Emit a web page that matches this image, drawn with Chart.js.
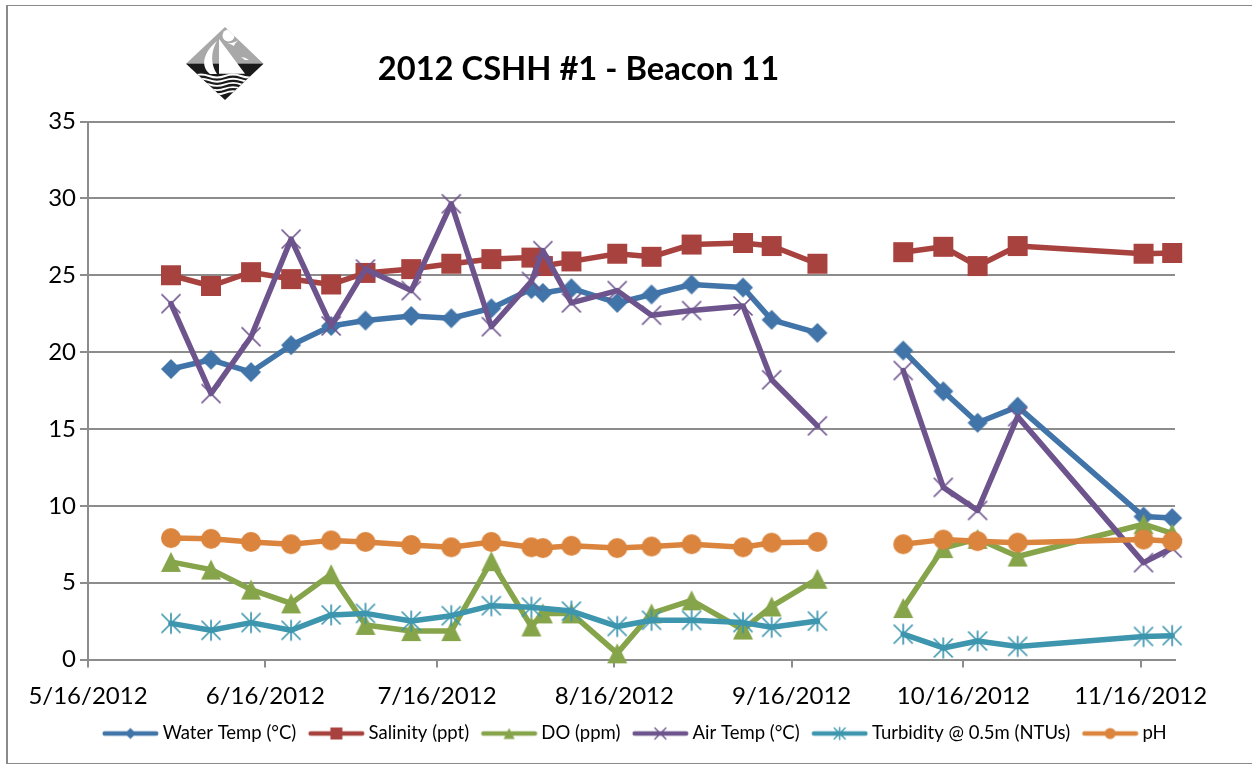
<!DOCTYPE html>
<html><head><meta charset="utf-8">
<style>
html,body{margin:0;padding:0;background:#fff;}
#wrap{position:relative;width:1252px;height:764px;overflow:hidden;}
#frame{position:absolute;left:6px;top:5px;width:1260px;height:759px;border:solid #8a8a8a;border-width:1.5px 0 1.5px 2px;box-sizing:border-box;}
canvas{position:absolute;left:0;top:0;}
#logo{position:absolute;left:185px;top:27px;}
</style>
<script src="https://cdn.jsdelivr.net/npm/chart.js@4"></script>
</head><body>
<div id="wrap"><div id="frame"></div>
<canvas id="c" width="1252" height="764"></canvas>
<svg id="logo" width="80" height="74" viewBox="0 0 80 74">
<defs><clipPath id="d"><polygon points="40,0 78.5,36.7 40,73 1,36.7"/></clipPath></defs>
<g clip-path="url(#d)">
<rect width="80" height="37" fill="#a8a8a8"/>
<rect y="36.7" width="80" height="38" fill="#1a1a1a"/>
<circle cx="43.5" cy="8.5" r="6" fill="#fff"/>
<path d="M34,12 L60,46.7 L34,46.7 Z" fill="#fff"/>
<path d="M32,14 C20,24 14,38 25,47 L32,47 C26,38 25,26 32,14 Z" fill="#fff"/>
<path d="M42,16 Q48,17 56,12 Q50,15 49,19 Q46,17 42,16Z" fill="#fff"/>
<path d="M56,30 Q60,30 64,33 L60,33Z" fill="#fff"/>
<g fill="none" stroke="#fff" stroke-width="1.9">
<path d="M8,49 q8,-3 16,0 t16,0 t16,0 t16,0"/>
<path d="M8,53.2 q8,-3 16,0 t16,0 t16,0 t16,0"/>
<path d="M8,57.4 q8,-3 16,0 t16,0 t16,0 t16,0"/>
<path d="M8,61.6 q8,-3 16,0 t16,0 t16,0 t16,0"/>
<path d="M8,65.8 q8,-3 16,0 t16,0 t16,0 t16,0"/>
</g>
</g>
</svg>
</div>
<script>
const titleText = '2012 CSHH #1 - Beacon 11';
const tickDates = ['5/16/2012','6/16/2012','7/16/2012','8/16/2012','9/16/2012','10/16/2012','11/16/2012'];
const yTicks = [0,5,10,15,20,25,30,35];
const dates = ['5/30/2012','6/6/2012','6/13/2012','6/20/2012','6/27/2012','7/3/2012','7/11/2012','7/18/2012','7/25/2012','8/1/2012','8/3/2012','8/8/2012','8/16/2012','8/22/2012','8/29/2012','9/7/2012','9/12/2012','9/20/2012','9/28/2012','10/5/2012','10/12/2012','10/18/2012','10/25/2012','11/16/2012','11/21/2012'];
const waterTemp = [18.9,19.5,18.7,20.45,21.7,22.05,22.35,22.2,22.85,24.1,23.85,24.15,23.2,23.75,24.4,24.2,22.1,21.25,null,20.1,17.45,15.4,16.45,9.3,9.2];
const salinity = [25.0,24.3,25.2,24.75,24.4,25.15,25.4,25.75,26.05,26.15,25.6,25.9,26.4,26.2,27.0,27.1,26.9,25.75,null,26.5,26.85,25.6,26.9,26.4,26.45];
const dissolvedO2 = [6.35,5.85,4.55,3.65,5.55,2.25,1.85,1.85,6.4,2.15,3.0,3.0,0.4,3.0,3.85,1.95,3.45,5.25,null,3.35,7.25,7.85,6.7,8.8,8.2];
const airTemp = [23.15,17.3,21.0,27.35,21.7,25.4,24.0,29.65,21.65,24.6,26.6,23.2,24.0,22.4,22.7,23.0,18.2,15.2,null,18.8,11.2,9.7,15.8,6.3,7.25];
const turbidity = [2.35,1.9,2.4,1.9,2.9,3.0,2.5,2.85,3.5,3.4,null,3.15,2.15,2.55,2.55,2.4,2.1,2.5,null,1.65,0.75,1.2,0.85,1.5,1.55];
const pH = [7.9,7.85,7.65,7.5,7.75,7.65,7.45,7.3,7.65,7.3,7.25,7.4,7.25,7.35,7.5,7.3,7.6,7.65,null,7.5,7.8,7.7,7.6,7.8,7.7];
const seriesNames = ['Water Temp (°C)','Salinity (ppt)','DO (ppm)','Air Temp (°C)','Turbidity @ 0.5m (NTUs)','pH'];
const seriesColors = ['#4174A8','#A8423F','#86A44A','#6E548D','#3D96AE','#DB843D'];
const seriesShapes = ['diamond','square','triangle','x','star','circle'];
const seriesValues = [waterTemp,salinity,dissolvedO2,airTemp,turbidity,pH];
const gapDate = '9/28/2012';
const axisColor = '#8c8c8c';
const FONT = 'Lato, Carlito, sans-serif';

function toDay(s){const [m,d,y]=s.split('/').map(Number);return Date.UTC(y,m-1,d)/86400000;}
const day0 = toDay(tickDates[0]);
const dayOf = s => toDay(s)-day0;

function shape(ctx,kind,cx,cy,s,color){
  const h=s/2;
  ctx.fillStyle=color;ctx.strokeStyle=color;
  ctx.beginPath();
  if(kind==='diamond'){ctx.moveTo(cx,cy-h);ctx.lineTo(cx+h,cy);ctx.lineTo(cx,cy+h);ctx.lineTo(cx-h,cy);ctx.closePath();ctx.fill();}
  else if(kind==='square'){ctx.rect(cx-h,cy-h,s,s);ctx.fill();}
  else if(kind==='triangle'){ctx.moveTo(cx,cy-h);ctx.lineTo(cx+h,cy+h);ctx.lineTo(cx-h,cy+h);ctx.closePath();ctx.fill();}
  else if(kind==='circle'){ctx.arc(cx,cy,h,0,Math.PI*2);ctx.fill();}
  else{
    ctx.lineWidth=s>14?1.7:1.4;
    ctx.moveTo(cx-h,cy-h);ctx.lineTo(cx+h,cy+h);ctx.moveTo(cx+h,cy-h);ctx.lineTo(cx-h,cy+h);
    if(kind==='star'){ctx.moveTo(cx,cy-h*1.1);ctx.lineTo(cx,cy+h*1.1);}
    ctx.stroke();
  }
}
function marker(kind,color){
  const size=kind==='x'||kind==='star'?19:20;
  const c=document.createElement('canvas');c.width=c.height=24;
  shape(c.getContext('2d'),kind,12,12,size,color);
  return c;
}
function legendGlyph(kind,color){
  const c=document.createElement('canvas');c.width=62;c.height=16;
  const g=c.getContext('2d');
  g.strokeStyle=color;g.lineWidth=4.5;g.lineCap='round';
  g.beginPath();g.moveTo(7.75,8);g.lineTo(59.25,8);g.stroke();
  shape(g,kind,33.5,8,kind==='square'?12:11,color);
  return c;
}

const datasets = seriesValues.map((vals,i)=>({
  label:seriesNames[i],
  data:dates.map((d,k)=>({x:dayOf(d)+0.5,y:vals[k],d})).filter(p=>p.y!==null||p.d===gapDate),
  borderColor:seriesColors[i],
  backgroundColor:seriesColors[i],
  borderWidth:5.5,
  borderCapStyle:'round',
  borderJoinStyle:'round',
  tension:0,
  spanGaps:false,
  clip:false,
  pointStyle:marker(seriesShapes[i],seriesColors[i]),
  pointRadius:10,
  pointHoverRadius:10,
  order:5-i
}));

const placeBlocks={id:'placeBlocks',beforeDraw(chart){
  if(chart.titleBlock){chart.titleBlock.left=0;chart.titleBlock.right=1157;}
  if(chart.legend){chart.legend.left=47;chart.legend.right=1222;}
}};

new Chart(document.getElementById('c'),{
  type:'line',
  data:{datasets},
  plugins:[placeBlocks],
  options:{
    responsive:false,animation:false,
    layout:{padding:{left:0,right:77,top:0,bottom:11.25}},
    plugins:{
      title:{display:true,text:titleText,color:'#000',align:'center',
        font:{family:FONT,size:32.7,weight:'bold',lineHeight:1.2},
        padding:{top:50,bottom:32.3}},
      tooltip:{enabled:false},
      legend:{display:true,position:'bottom',
        labels:{usePointStyle:true,pointStyleWidth:51,boxHeight:16,padding:12,color:'#000',
          font:{family:FONT,size:18.5},
          generateLabels:()=>seriesNames.map((t,i)=>({text:t,fontColor:'#000',fillStyle:seriesColors[i],strokeStyle:seriesColors[i],lineWidth:0,pointStyle:legendGlyph(seriesShapes[i],seriesColors[i]),datasetIndex:i,hidden:false}))}}
    },
    scales:{
      x:{type:'linear',min:0,max:190,
        afterFit(s){s.height=52.75;},
        afterBuildTicks(s){s.ticks=tickDates.map(d=>({value:dayOf(d)}));},
        ticks:{autoSkip:false,maxRotation:0,color:'#000',padding:14,font:{family:FONT,size:24},
          callback:(v)=>tickDates.find(d=>dayOf(d)===v)||''},
        border:{color:axisColor,width:2},
        grid:{drawOnChartArea:false,drawTicks:true,tickLength:8,color:axisColor,lineWidth:2}},
      y:{min:0,max:35,
        afterFit(s){s.width=88;},
        afterBuildTicks(s){s.ticks=yTicks.map(v=>({value:v}));},
        ticks:{color:'#000',padding:4,font:{family:FONT,size:24}},
        border:{color:axisColor,width:2},
        grid:{color:axisColor,lineWidth:2,tickLength:8}}
    }
  }
});
</script>
</body></html>
